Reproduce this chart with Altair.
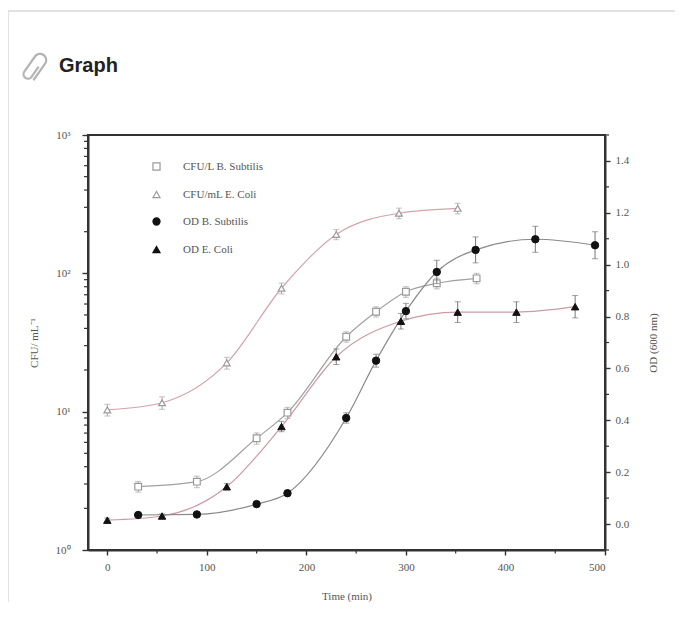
import altair as alt
import pandas as pd

# ---------------- data ----------------
series_names = ["CFU/L B. Subtilis", "CFU/mL E. Coli", "OD B. Subtilis", "OD E. Coli"]

# CFU (left, log axis)
t_cfu_bs = [31, 90, 150, 181, 240, 270, 300, 331, 371]
cfu_bs = [2.87, 3.12, 6.42, 9.84, 34.8, 52.8, 73.6, 84.7, 92.0]
cfu_bs_err = [0.25, 0.3, 0.6, 0.9, 3.0, 4.5, 6.5, 7.5, 8.0]

t_cfu_ec = [0, 55, 120, 175, 230, 293, 352]
cfu_ec = [10.3, 11.6, 22.5, 78.0, 191.0, 272.0, 295.0]
cfu_ec_err = [1.0, 1.2, 2.2, 7.0, 16.0, 24.0, 26.0]

# OD (right, linear axis)
t_od_bs = [31, 90, 150, 181, 240, 270, 300, 331, 370, 430, 490]
od_bs = [0.035, 0.037, 0.077, 0.119, 0.409, 0.630, 0.821, 0.972, 1.057, 1.098, 1.075]
od_bs_err = [0.008, 0.008, 0.01, 0.01, 0.02, 0.025, 0.03, 0.045, 0.05, 0.05, 0.052]

t_od_ec = [0, 55, 120, 175, 230, 295, 352, 411, 470]
od_ec = [0.015, 0.031, 0.144, 0.376, 0.645, 0.782, 0.817, 0.817, 0.838]
od_ec_err = [0.008, 0.008, 0.012, 0.02, 0.03, 0.03, 0.04, 0.04, 0.043]

# axis ticks
x_ticks = [0, 100, 200, 300, 400, 500]
x_minor = [50, 150, 250, 350, 450]
cfu_ticks = [1, 10, 100, 1000]
cfu_minor = [2, 3, 4, 5, 6, 7, 8, 9, 20, 30, 40, 50, 60, 70, 80, 90,
             200, 300, 400, 500, 600, 700, 800, 900]
od_ticks = [0.0, 0.2, 0.4, 0.6, 0.8, 1.0, 1.2, 1.4]
od_minor = [-0.1, 0.1, 0.3, 0.5, 0.7, 0.9, 1.1, 1.3, 1.5]


def frame(t, v, e, name):
    return pd.DataFrame({
        "t": t, "v": v,
        "lo": [a - b for a, b in zip(v, e)],
        "hi": [a + b for a, b in zip(v, e)],
        "s": name,
    })


df_cfu_bs = frame(t_cfu_bs, cfu_bs, cfu_bs_err, series_names[0])
df_cfu_ec = frame(t_cfu_ec, cfu_ec, cfu_ec_err, series_names[1])
df_od_bs = frame(t_od_bs, od_bs, od_bs_err, series_names[2])
df_od_ec = frame(t_od_ec, od_ec, od_ec_err, series_names[3])
df_cfu = pd.concat([df_cfu_bs, df_cfu_ec], ignore_index=True)
df_od = pd.concat([df_od_bs, df_od_ec], ignore_index=True)

W, H = 517, 415
SERIF = "Liberation Serif, Times New Roman, serif"
GREY = "#9a9a9a"

# ---------------- scales / axes ----------------
xscale = alt.Scale(domain=[-19.4, 500], nice=False, zero=False)
xaxis = alt.Axis(values=x_ticks, title="Time (min)", tickSize=5, labelPadding=6,
                 titlePadding=18, format="d")


def X(f="t"):
    return alt.X(f"{f}:Q", scale=xscale, axis=xaxis)


lscale = alt.Scale(type="log", domain=[1, 1000], nice=False)
laxis = alt.Axis(orient="left", values=cfu_ticks, title="CFU/ mL\u207b\u00b9",
                 tickSize=6, labelPadding=12, titlePadding=16,
                 labelExpr="datum.value == 1 ? '10\u2070' : datum.value == 10 ? '10\u00b9' : datum.value == 100 ? '10\u00b2' : '10\u00b3'")


def YL(f):
    return alt.Y(f"{f}:Q", scale=lscale, axis=laxis, title="CFU/ mL\u207b\u00b9")


rscale = alt.Scale(domain=[-0.1, 1.5], nice=False, zero=False)
raxis = alt.Axis(orient="right", values=od_ticks, format=".1f", title="OD (600 nm)",
                 tickSize=5, labelPadding=5, titlePadding=30, titleAngle=270)


def YR(f):
    return alt.Y(f"{f}:Q", scale=rscale, axis=raxis, title="OD (600 nm)")


legend = alt.Legend(orient="none", legendX=63, legendY=26, title=None,
                    labelFont=SERIF, labelFontSize=11, labelColor="#555",
                    labelOffset=21, rowPadding=15, symbolSize=50,
                    symbolStrokeWidth=1.2, padding=0)
shape = alt.Shape("s:N", scale=alt.Scale(domain=series_names,
                  range=["square", "triangle-up", "circle", "triangle-up"]), legend=legend)
fill = alt.Fill("s:N", scale=alt.Scale(domain=series_names,
                range=["white", "white", "#111111", "#111111"]), legend=legend)
stroke = alt.Stroke("s:N", scale=alt.Scale(domain=series_names,
                    range=[GREY, GREY, "#111111", "#111111"]), legend=legend)


def fit_line(df, Y, color):
    return alt.Chart(df).mark_line(color=color, strokeWidth=1.2, interpolate="monotone").encode(
        x=X(), y=Y("v"))


def errbars(df, Y, color):
    base = alt.Chart(df)
    r = base.mark_rule(color=color, strokeWidth=1).encode(x=X(), y=Y("lo"), y2="hi:Q")
    t1 = base.mark_tick(color=color, orient="horizontal", size=6, thickness=1).encode(x=X(), y=Y("hi"))
    t2 = base.mark_tick(color=color, orient="horizontal", size=6, thickness=1).encode(x=X(), y=Y("lo"))
    return [r, t1, t2]


# ---------------- decorations (card, header) ----------------
deco_df = pd.DataFrame({"k": [0]})
border = alt.Chart(deco_df).mark_rect(fill="white", fillOpacity=0, stroke="#e2e2e2", strokeWidth=2).encode(
    x=alt.value(-80), x2=alt.value(720), y=alt.value(-124), y2=alt.value(640))
header = alt.Chart(deco_df).mark_text(
    text="Graph", font="Liberation Sans, Arial, sans-serif",
    fontSize=20, fontWeight="bold", color="#222222", align="left", baseline="alphabetic").encode(
    x=alt.value(-29), y=alt.value(-63))
CLIP = ("M 0.25 -0.2 L 0.25 0.5 A 0.25 0.25 0 0 1 -0.25 0.5 L -0.25 -0.55 "
        "A 0.35 0.35 0 0 1 0.45 -0.55 L 0.45 0.6")
clip_icon = alt.Chart(deco_df).mark_point(shape=CLIP, size=1250, color="#b4b4b4", strokeWidth=2.2,
                                          filled=False, angle=35, opacity=1).encode(
    x=alt.value(-55), y=alt.value(-68))
deco = alt.layer(border, header, clip_icon)

# ---------------- left (CFU) layer ----------------
xminor_df = pd.DataFrame({"t": x_minor})
lminor_df = pd.DataFrame({"m": cfu_minor})
rminor_df = pd.DataFrame({"m": od_minor})

x_minor_marks = alt.Chart(xminor_df).mark_rule(color="#333", strokeWidth=1.2).encode(
    x=X(), y=alt.value(H), y2=alt.value(H + 3.5))
l_minor_marks = alt.Chart(lminor_df).mark_rule(color="#333", strokeWidth=1.2).encode(
    y=YL("m"), x=alt.value(0), x2=alt.value(-4))

cfu_points = alt.Chart(df_cfu).mark_point(size=45, strokeWidth=1.2, opacity=1, filled=False).encode(
    x=X(), y=YL("v"), shape=shape, fill=fill, stroke=stroke)

left = alt.layer(
    x_minor_marks, l_minor_marks,
    fit_line(df_cfu_ec, YL, "#d6a3ab"),
    fit_line(df_cfu_bs, YL, "#a0a0a0"),
    *errbars(df_cfu, YL, "#a8a8a8"),
    cfu_points,
)

# ---------------- right (OD) layer ----------------
r_minor_marks = alt.Chart(rminor_df).mark_rule(color="#333", strokeWidth=1.2).encode(
    y=YR("m"), x=alt.value(W), x2=alt.value(W + 4))
od_points = alt.Chart(df_od).mark_point(size=55, strokeWidth=1, opacity=1, filled=False).encode(
    x=X(), y=YR("v"), shape=shape, fill=fill, stroke=stroke)

right = alt.layer(
    r_minor_marks,
    fit_line(df_od_ec, YR, "#cc9aa2"),
    fit_line(df_od_bs, YR, "#8a8a8a"),
    *errbars(df_od, YR, "#777777"),
    od_points,
)

chart = alt.layer(deco, left, right).resolve_scale(y="independent").properties(
    width=W, height=H,
    autosize=alt.AutoSizeParams(type="none"),
    padding={"left": 80, "top": 127, "right": 70, "bottom": 52},
).configure_view(stroke="#333333", strokeWidth=2).configure_axis(
    grid=False, domainColor="#333333", domainWidth=2, tickColor="#333333", tickWidth=1.4,
    labelFont=SERIF, labelFontSize=11, labelColor="#555555",
    titleFont=SERIF, titleFontSize=11, titleFontWeight="normal", titleColor="#555555",
)

chart.save("out.html", embed_options={"renderer": "svg", "actions": False})
